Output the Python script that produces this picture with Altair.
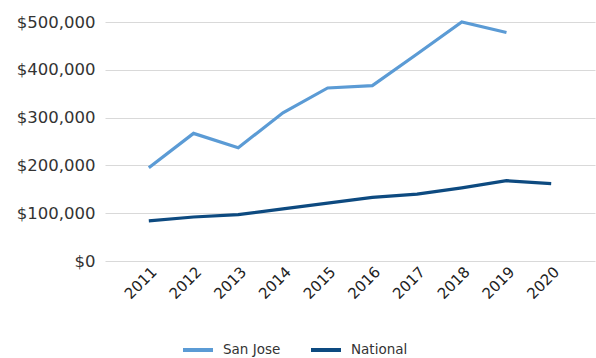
import altair as alt
import pandas as pd

years = ["2011", "2012", "2013", "2014", "2015", "2016", "2017", "2018", "2019", "2020"]
san_jose = [195000, 267000, 237000, 310000, 362000, 367000, 433000, 500000, 478000, None]
national = [84000, 92000, 97000, 109000, 121000, 133000, 140000, 153000, 168000, 162000]
series = ["San Jose", "National"]
colors = ["#5b9bd5", "#0d4a80"]

rows = []
for y, v in zip(years, san_jose):
    if v is not None:
        rows.append({"Year": y, "Series": "San Jose", "Value": v})
for y, v in zip(years, national):
    rows.append({"Year": y, "Series": "National", "Value": v})
df = pd.DataFrame(rows)

FONT = "DejaVu Sans"

chart = alt.Chart(df).mark_line(strokeWidth=3.2).encode(
    x=alt.X("Year:O", sort=years, title=None,
            scale=alt.Scale(type="point", padding=0.98),
            axis=alt.Axis(labelAngle=-45, labelFontSize=15, labelFont=FONT,
                          labelColor="#222222", ticks=False, domain=False,
                          grid=False, labelPadding=3)),
    y=alt.Y("Value:Q", title=None,
            scale=alt.Scale(domain=[0, 500000]),
            axis=alt.Axis(values=[0, 100000, 200000, 300000, 400000, 500000],
                          format="$,.0f", labelFontSize=16.5, labelFont=FONT,
                          labelColor="#333333", ticks=False, domain=False,
                          gridColor="#d9d9d9", gridWidth=1.2, labelPadding=10)),
    color=alt.Color("Series:N", sort=series,
                    scale=alt.Scale(domain=series, range=colors),
                    legend=alt.Legend(title=None, orient="none", direction="horizontal",
                                      legendX=76, legendY=311, symbolType="stroke",
                                      symbolSize=900, symbolStrokeWidth=4,
                                      labelFont=FONT, labelFontSize=13.5,
                                      labelColor="#333333", columnPadding=22,
                                      labelOffset=8)),
    detail="Series:N",
).properties(
    width=490, height=239,
    autosize=alt.AutoSizeParams(type="none"),
    padding={"left": 105, "top": 22, "right": 1, "bottom": 97},
).configure_view(stroke=None)

chart.save("out.html", embed_options={"renderer": "svg", "actions": False})
